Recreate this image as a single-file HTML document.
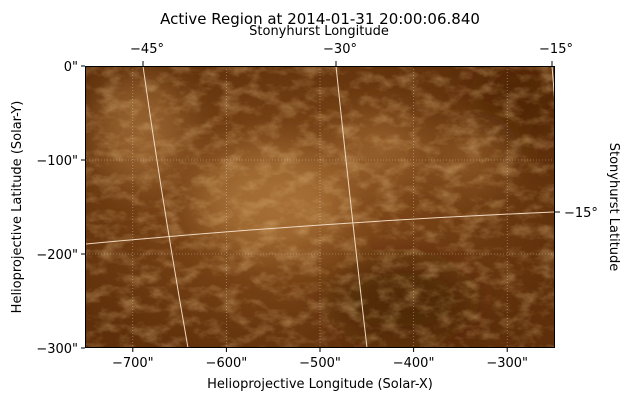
<!DOCTYPE html>
<html><head><meta charset="utf-8"><style>
body{margin:0;background:#fff;width:629px;height:402px;overflow:hidden;font-family:"Liberation Sans","DejaVu Sans",sans-serif}
svg text{font-family:"DejaVu Sans","Liberation Sans",sans-serif;font-size:13px;fill:#000}
</style></head><body>
<svg width="629" height="402">
<defs>
<filter id="tex" x="0" y="0" width="100%" height="100%">
<feTurbulence type="fractalNoise" baseFrequency="0.05 0.08" numOctaves="4" seed="7" result="n"/>
<feColorMatrix in="n" type="matrix" values="0 0 0 0 0.82  0 0 0 0 0.55  0 0 0 0 0.25  2.2 0 0 0 -0.95" result="c"/>
<feComposite in="c" in2="SourceGraphic" operator="in"/>
</filter>
<filter id="blur"><feGaussianBlur stdDeviation="18"/></filter>
<radialGradient id="g1" cx="0.45" cy="0.5" r="0.6"><stop offset="0" stop-color="#8a501e"/><stop offset="1" stop-color="#5e2f0a"/></radialGradient>
<clipPath id="clip"><rect x="86" y="66" width="468" height="282"/></clipPath>
</defs>
<g clip-path="url(#clip)">
<rect x="86" y="66" width="468" height="282" fill="url(#g1)"/>
<g filter="url(#blur)">
<ellipse cx="140" cy="130" rx="45" ry="55" fill="#b07a40" opacity="0.6"/>
<ellipse cx="270" cy="200" rx="75" ry="55" fill="#b88244" opacity="0.6"/>
<ellipse cx="380" cy="150" rx="45" ry="35" fill="#a87038" opacity="0.6"/>
<ellipse cx="470" cy="160" rx="35" ry="30" fill="#a87038" opacity="0.5"/>
<ellipse cx="400" cy="300" rx="70" ry="40" fill="#3e1a03" opacity="0.6"/>
<ellipse cx="520" cy="100" rx="40" ry="40" fill="#4a2205" opacity="0.6"/>
</g>
<rect x="86" y="66" width="468" height="282" fill="#fff" filter="url(#tex)" opacity="0.4"/>
<g id="grid" stroke="#ffffff" stroke-dasharray="1,2" stroke-width="0.6" opacity="0.5"></g>
<g fill="none" stroke="#f0d8c0" stroke-width="1">
<path d="M143 66 Q162 200 188 348"/>
<path d="M336 66 Q350 200 367 348"/>
<path d="M552 66 Q555 100 556 130"/>
<path d="M86 244 Q320 222 554 212"/>
</g>
</g>
<rect x="85.5" y="66.5" width="469" height="281" fill="none" stroke="#000" stroke-width="1"/>
<g id="axes"></g>
<text x="320" y="24" text-anchor="middle" style="font-size:15px">Active Region at 2014-01-31 20:00:06.840</text>
<text x="319" y="35" text-anchor="middle">Stonyhurst Longitude</text>
<text x="320" y="388" text-anchor="middle">Helioprojective Longitude (Solar-X)</text>
<text transform="translate(21,207) rotate(-90)" text-anchor="middle">Helioprojective Latitude (Solar-Y)</text>
<text transform="translate(610,207) rotate(90)" text-anchor="middle">Stonyhurst Latitude</text>
</svg>
<script>
const xTicks=[-700,-600,-500,-400,-300];
const yTicks=[0,-100,-200,-300];
const topTicks=[-45,-30,-15];
const topTickX=[143,336,552];
const rightTicks=[-15];
const rightTickY=[212];
const X=v=>86+(v+750)*0.936, Y=v=>66+(-v)*0.94;
const NS="http://www.w3.org/2000/svg";
const ax=document.getElementById('axes'), gr=document.getElementById('grid');
function mk(t,a,p){const e=document.createElementNS(NS,t);for(const k in a)e.setAttribute(k,a[k]);(p||ax).appendChild(e);return e;}
xTicks.forEach(v=>{const x=X(v);
 mk('line',{x1:x,x2:x,y1:66,y2:348},gr);
 const l=mk('line',{x1:x,x2:x,y1:348,y2:352,stroke:'#000'});
 
 
 const t=mk('text',{x:x,y:367,'text-anchor':'middle'});t.textContent='\u2212'+Math.abs(v)+'"';
 
 });
yTicks.forEach(v=>{const y=Y(v);
 mk('line',{x1:86,x2:554,y1:y,y2:y},gr);
 const l=mk('line',{x1:81,x2:85,y1:y,y2:y,stroke:'#000'});
 
 
 const t=mk('text',{x:78,y:y+5,'text-anchor':'end'});t.textContent=(v==0?'0':'\u2212'+Math.abs(v))+'"';
 
 });
topTicks.forEach((v,i)=>{const x=topTickX[i];
 mk('line',{x1:x,x2:x,y1:61,y2:66,stroke:'#000'});
 const t=mk('text',{x:x+4,y:53,'text-anchor':'middle'});t.textContent='\u2212'+Math.abs(v)+'\u00b0';
 
 });
rightTicks.forEach((v,i)=>{const y=rightTickY[i];
 mk('line',{x1:555,x2:560,y1:y,y2:y,stroke:'#000'});
 const t=mk('text',{x:564,y:y+5});t.textContent='\u2212'+Math.abs(v)+'\u00b0';
 
 });
</script>
</body></html>
